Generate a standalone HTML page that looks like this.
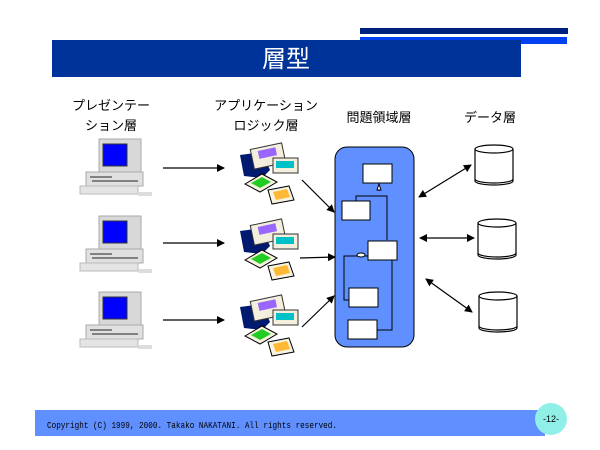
<!DOCTYPE html>
<html><head><meta charset="utf-8"><style>
body{margin:0;background:#fff;width:600px;height:450px;overflow:hidden}
svg{display:block}
text{font-family:"Liberation Sans","Noto Sans CJK JP",sans-serif}
</style></head><body>
<svg width="600" height="450" xmlns="http://www.w3.org/2000/svg">
<defs>
<marker id="ah" markerWidth="8" markerHeight="8" refX="7" refY="4" orient="auto" markerUnits="userSpaceOnUse"><path d="M0,0 L8,4 L0,8 z" fill="#000"/></marker>
<marker id="as" markerWidth="8" markerHeight="8" refX="1" refY="4" orient="auto" markerUnits="userSpaceOnUse"><path d="M8,0 L0,4 L8,8 z" fill="#000"/></marker>
<g id="pc">
<rect x="99" y="139" width="42" height="34" fill="#d8d8d8" stroke="#aaa"/>
<rect x="103" y="144" width="24" height="22" fill="#0000ff" stroke="#333"/>
<rect x="86" y="172" width="57" height="14" fill="#e0e0e0" stroke="#aaa"/>
<line x1="90" y1="177" x2="112" y2="177" stroke="#222"/>
<line x1="92" y1="181" x2="138" y2="181" stroke="#222"/>
<rect x="80" y="186" width="58" height="8" fill="#e4e4e4" stroke="#bbb"/>
<rect x="138" y="192" width="14" height="4" fill="#ddd"/>
</g>
<g id="app">
<path d="M240,155 L262,152 L270,170 L262,178 L244,176 Z" fill="#001a70"/>
<rect x="252" y="146" width="32" height="20" fill="#f4eedc" stroke="#333" transform="rotate(-12 268 156)"/>
<rect x="259" y="149" width="18" height="8" fill="#9966ff" transform="rotate(-12 268 156)"/>
<rect x="273" y="158" width="25" height="15" fill="#f4eedc" stroke="#333"/>
<rect x="276" y="161" width="18" height="7" fill="#00c0c8"/>
<path d="M245,184 L262,174 L277,182 L260,192 Z" fill="#f8f2e0" stroke="#000"/>
<path d="M251,183 L262,177 L271,182 L260,188 Z" fill="#22cc22"/>
<path d="M268,190 L289,186 L294,200 L272,204 Z" fill="#f8f2e0" stroke="#000"/>
<path d="M273,192 L287,189 L290,197 L276,200 Z" fill="#ffb833"/>
</g>
</defs>
<rect x="360" y="28" width="208" height="6" fill="#002080"/>
<rect x="360" y="37" width="207" height="7" fill="#0040f0"/>
<rect x="52" y="40" width="469" height="37" fill="#003399"/>
<text x="286" y="67" font-size="24" fill="#fff" text-anchor="middle">層型</text>
<text font-size="13" text-anchor="middle"><tspan x="111" y="110">プレゼンテー</tspan><tspan x="111" y="130">ション層</tspan></text>
<text font-size="13" text-anchor="middle"><tspan x="266" y="110">アプリケーション</tspan><tspan x="266" y="130">ロジック層</tspan></text>
<text font-size="13" text-anchor="middle" x="379" y="122">問題領域層</text>
<text font-size="13" text-anchor="middle" x="490" y="122">データ層</text>
<use href="#pc"/><use href="#pc" y="77"/><use href="#pc" y="153"/>
<use href="#app"/><use href="#app" y="76"/><use href="#app" y="152"/>
<g stroke="#000" stroke-width="1.2" fill="none">
<line x1="163" y1="168" x2="224" y2="168" marker-end="url(#ah)"/>
<line x1="163" y1="243" x2="224" y2="243" marker-end="url(#ah)"/>
<line x1="163" y1="320" x2="224" y2="320" marker-end="url(#ah)"/>
<line x1="302" y1="180" x2="334" y2="212" marker-end="url(#ah)"/>
<line x1="300" y1="258" x2="335" y2="257" marker-end="url(#ah)"/>
<line x1="302" y1="327" x2="334" y2="296" marker-end="url(#ah)"/>
<line x1="471" y1="165" x2="419" y2="197" marker-end="url(#ah)" marker-start="url(#as)"/>
<line x1="420" y1="238" x2="474" y2="238" marker-end="url(#ah)" marker-start="url(#as)"/>
<line x1="426" y1="279" x2="472" y2="312" marker-end="url(#ah)" marker-start="url(#as)"/>
</g>
<rect x="335" y="147" width="79" height="200" rx="12" fill="#6090ff" stroke="#000"/>
<g stroke="#000" fill="none" stroke-width="1">
<polyline points="356,202 356,196 387,196 387,240"/>
<line x1="379" y1="191" x2="379" y2="184"/>
<polyline points="368,256 344,256 344,300 349,300"/>
<polyline points="377,330 392,330 392,260"/>
</g>
<path d="M377,190 L379,184 L381,190 Z" fill="#fff" stroke="#000"/>
<ellipse cx="361" cy="255" rx="4" ry="2" fill="#fff" stroke="#000"/>
<g fill="#fff" stroke="#000">
<rect x="363" y="164" width="29" height="19"/>
<rect x="342" y="201" width="28" height="19"/>
<rect x="368" y="241" width="29" height="19"/>
<rect x="349" y="288" width="29" height="19"/>
<rect x="348" y="320" width="29" height="19"/>
</g>
<g fill="#fff" stroke="#000" stroke-width="1.2">
<path d="M475,149 V181 A19,4 0 0 0 513,181 V149"/><ellipse cx="494" cy="149" rx="19" ry="4"/><path d="M475,179 A19,4 0 0 0 513,179" fill="none"/>
<path d="M478,223 V255 A19,4 0 0 0 516,255 V223"/><ellipse cx="497" cy="223" rx="19" ry="4"/><path d="M478,253 A19,4 0 0 0 516,253" fill="none"/>
<path d="M479,296 V328 A19,4 0 0 0 517,328 V296"/><ellipse cx="498" cy="296" rx="19" ry="4"/><path d="M479,326 A19,4 0 0 0 517,326" fill="none"/>
</g>
<rect x="35" y="410" width="510" height="26" fill="#6090ff"/>
<text x="47" y="428" font-size="9" textLength="290" lengthAdjust="spacingAndGlyphs" fill="#000" style="font-family:'Liberation Mono',monospace">Copyright (C) 1999, 2000. Takako NAKATANI. All rights reserved.</text>
<circle cx="551" cy="419" r="16" fill="#90f0e8"/>
<text x="551" y="422" font-size="9" text-anchor="middle">-12-</text>
</svg>
</body></html>
